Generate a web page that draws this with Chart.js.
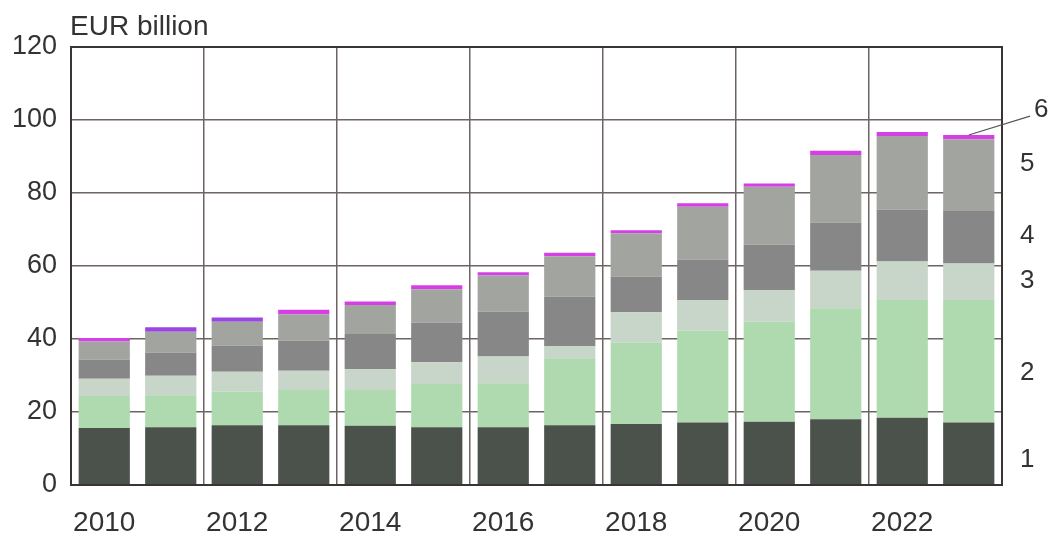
<!DOCTYPE html>
<html>
<head>
<meta charset="utf-8">
<script src="https://cdn.jsdelivr.net/npm/chart.js@4.4.1/dist/chart.umd.min.js"></script>
<style>
  html, body { margin: 0; padding: 0; background: #ffffff; }
  #wrap { width: 1052px; height: 538px; position: relative; }
</style>
</head>
<body>
<div id="wrap"><canvas id="c" width="1052" height="538"></canvas></div>
<script>
const years = ['2010','2011','2012','2013','2014','2015','2016','2017','2018','2019','2020','2021','2022','2023'];
const yTicks = [0, 20, 40, 60, 80, 100, 120];
const unitLabel = 'EUR billion';

const series1 = [15.6, 15.8, 16.4, 16.4, 16.2, 15.8, 15.8, 16.4, 16.7, 17.1, 17.3, 18.0, 18.4, 17.1];
const series2 = [8.8, 8.8, 9.2, 9.6, 9.8, 11.9, 12.1, 18.3, 22.3, 25.2, 27.4, 30.4, 32.3, 33.6];
const series3 = [4.7, 5.3, 5.4, 5.3, 5.7, 5.9, 7.3, 3.4, 8.3, 8.4, 8.7, 10.3, 10.5, 10.0];
const series4 = [5.3, 6.4, 7.2, 8.2, 9.7, 10.9, 12.3, 13.5, 9.8, 11.1, 12.4, 13.2, 14.3, 14.4];
const series5 = [4.9, 5.7, 6.5, 7.3, 7.9, 9.1, 9.9, 11.1, 11.9, 14.4, 15.9, 18.5, 20.1, 19.6];
const series6 = [1.0, 1.2, 1.2, 1.2, 1.0, 1.1, 0.9, 0.9, 0.8, 1.0, 0.9, 1.2, 1.1, 1.2];

const seriesNames = ['1', '2', '3', '4', '5', '6'];
const seriesNameValues = [6.8, 30.7, 56, 68.2, 88, 102.7];

const FONT = "'Liberation Sans', Arial, sans-serif";
const TEXT = '#333333';
const GRID = '#6f6464';

const magenta = '#d63fe6';
const purple = '#9a46e2';
const s6Colors = years.map((y, i) => (i === 1 || i === 2) ? purple : magenta);

const overlay = {
  id: 'overlay',
  afterDatasetsDraw(chart) {
    const ctx = chart.ctx;
    const a = chart.chartArea;
    const ys = chart.scales.y;
    ctx.save();
    // frame
    ctx.strokeStyle = '#3a3535';
    ctx.lineWidth = 2;
    ctx.strokeRect(a.left, a.top, a.right - a.left, a.bottom - a.top);
    // unit label
    ctx.fillStyle = TEXT;
    ctx.font = '28px ' + FONT;
    ctx.textAlign = 'left';
    ctx.textBaseline = 'alphabetic';
    ctx.fillText(unitLabel, a.left - 1, 35);
    // series labels on the right
    ctx.font = '26px ' + FONT;
    ctx.textBaseline = 'middle';
    seriesNames.forEach((n, i) => {
      const y = ys.getPixelForValue(seriesNameValues[i]);
      const x = (i === seriesNames.length - 1) ? a.right + 32 : a.right + 18;
      ctx.fillText(n, x, y);
    });
    // leader line to the last top segment
    const meta = chart.getDatasetMeta(5);
    const last = meta.data[meta.data.length - 1];
    const yLab = ys.getPixelForValue(seriesNameValues[5]);
    ctx.strokeStyle = '#555';
    ctx.lineWidth = 1.2;
    ctx.beginPath();
    ctx.moveTo(a.right + 28, yLab + 6);
    ctx.lineTo(last.x, last.y);
    ctx.stroke();
    ctx.restore();
  }
};

const mk = (label, data, color) => ({
  label, data, backgroundColor: color, borderWidth: 0,
  categoryPercentage: 1.0, barPercentage: 0.77
});

new Chart(document.getElementById('c'), {
  type: 'bar',
  data: {
    labels: years,
    datasets: [
      mk('1', series1, '#4b524b'),
      mk('2', series2, '#afdab0'),
      mk('3', series3, '#c8d5c9'),
      mk('4', series4, '#878787'),
      mk('5', series5, '#a1a49f'),
      mk('6', series6, s6Colors)
    ]
  },
  options: {
    responsive: false,
    animation: false,
    devicePixelRatio: 1,
    layout: { padding: { left: 0, right: 50, top: 47, bottom: 0 } },
    plugins: { legend: { display: false }, tooltip: { enabled: false } },
    scales: {
      x: {
        stacked: true,
        grid: {
          offset: true,
          drawTicks: false,
          lineWidth: 1.5,
          color: (ctx) => (ctx.index > 0 && ctx.index < years.length && ctx.index % 2 === 0) ? GRID : 'rgba(0,0,0,0)'
        },
        border: { display: true, color: '#3a3535', width: 2 },
        ticks: {
          autoSkip: false,
          maxRotation: 0,
          minRotation: 0,
          padding: 21,
          color: TEXT,
          font: { family: FONT, size: 28 },
          callback: function (v, i) { return i % 2 === 0 ? years[i] : ''; }
        },
        afterFit: (s) => { s.height = 53; }
      },
      y: {
        stacked: true,
        min: yTicks[0],
        max: yTicks[yTicks.length - 1],
        afterBuildTicks: (s) => { s.ticks = yTicks.map(v => ({ value: v })); },
        grid: { drawTicks: false, lineWidth: 1.5, color: GRID },
        border: { display: true, color: '#3a3535', width: 2 },
        ticks: {
          padding: 14,
          color: TEXT,
          font: { family: FONT, size: 27 }
        },
        afterFit: (s) => { s.width = 71; }
      }
    }
  },
  plugins: [overlay]
});
</script>
</body>
</html>
